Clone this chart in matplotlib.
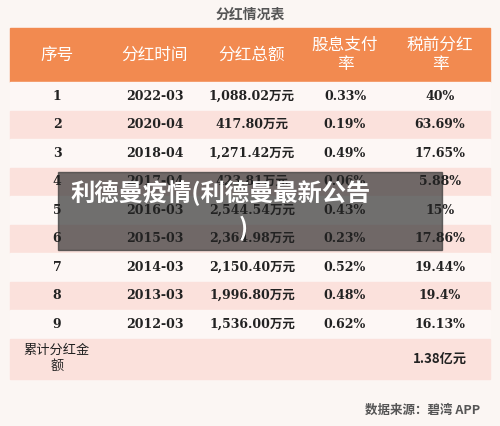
import matplotlib
matplotlib.use("Agg")
import matplotlib.pyplot as plt
from matplotlib.patches import Rectangle

plt.rcParams['font.family'] = ['Noto Sans CJK SC', 'DejaVu Sans']

headers = ["序号", "分红时间", "分红总额", "股息支付\n率", "税前分红\n率"]
idx = ["1", "2", "3", "4", "5", "6", "7", "8", "9"]
dates = ["2022-03", "2020-04", "2018-04", "2017-04", "2016-03", "2015-03", "2014-03", "2013-03", "2012-03"]
totals = ["1,088.02万元", "417.80万元", "1,271.42万元", "423.81万元", "2,544.54万元",
          "2,364.98万元", "2,150.40万元", "1,996.80万元", "1,536.00万元"]
payout = ["0.33%", "0.19%", "0.49%", "0.06%", "0.43%", "0.23%", "0.52%", "0.48%", "0.62%"]
pretax = ["40%", "63.69%", "17.65%", "5.88%", "15%", "17.86%", "19.44%", "19.4%", "16.13%"]
total_label = "累计分红金\n额"
total_value = "1.38亿元"

W, H = 500, 426
fig = plt.figure(figsize=(W/100, H/100), dpi=100)
ax = fig.add_axes([0, 0, 1, 1])
ax.set_xlim(0, W); ax.set_ylim(H, 0); ax.axis('off')
fig.patch.set_facecolor('#fbf6f3')

cx = [57, 155, 252, 345, 440]
x0, x1 = 10, 490
ax.text(250, 15, "分红情况表", ha='center', va='center', fontsize=10, color='#555555', weight='bold')
ax.add_patch(Rectangle((x0, 28), x1-x0, 54, color='#f28a50'))
for c, h in zip(cx, headers):
    ax.text(c, 55, h, ha='center', va='center', fontsize=12, color='white', linespacing=1.15)

top, rh = 82, 28.5
serif = ['DejaVu Serif', 'Noto Sans CJK SC']
for i in range(9):
    y = top + i*rh
    ax.add_patch(Rectangle((x0, y), x1-x0, rh, color='#fbe1dc' if i % 2 else '#fdf7f5'))
    yc = y + rh/2
    for c, v in zip(cx, [idx[i], dates[i], totals[i], payout[i], pretax[i]]):
        ax.text(c, yc, v, ha='center', va='center', fontsize=9, weight='bold', color='#222222',
                family=serif)
y = top + 9*rh
ax.add_patch(Rectangle((x0, y), x1-x0, 40, color='#fbe1dc'))
ax.text(cx[0], y+20, total_label, ha='center', va='center', fontsize=9.5, color='#222222', linespacing=1.3)
ax.text(cx[4], y+20, total_value, ha='center', va='center', fontsize=9.5, weight='bold', color='#222222')

ax.text(480, 410, "数据来源：碧湾 APP", ha='right', va='center', fontsize=9, weight='bold', color='#555555')

ax.add_patch(Rectangle((58, 172), 384, 78, color='#3a3a3a', alpha=0.72))
ax.text(70, 193, "利德曼疫情(利德曼最新公告", ha='left', va='center', fontsize=17.5, weight='bold', color='white')
ax.text(243, 228, ")", ha='center', va='center', fontsize=17.5, weight='bold', color='white')

fig.savefig("out.png", dpi=100, facecolor=fig.get_facecolor())
